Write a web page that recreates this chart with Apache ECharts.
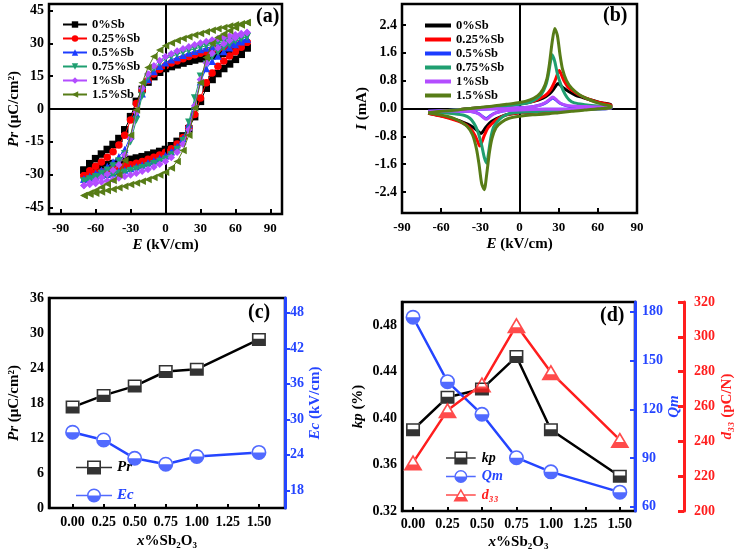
<!DOCTYPE html>
<html><head><meta charset="utf-8">
<script src="https://cdn.jsdelivr.net/npm/echarts@6/dist/echarts.min.js"></script>
<style>html,body{margin:0;padding:0;background:#fff}#c{width:738px;height:549px}</style>
</head><body><div id="c"></div>
<script>
// ---------- (a) P-E loops ----------
const loopNames = ['0%Sb','0.25%Sb','0.5%Sb','0.75%Sb','1%Sb','1.5%Sb'];
const eDown = [70,65,60,55,50,45,40,35,30,25,20,15,10,5,0,-5,-10,-15,-20,-25,-30,-35,-40,-45,-50,-55,-60,-65,-70];
const eUp   = [-70,-65,-60,-55,-50,-45,-40,-35,-30,-25,-20,-15,-10,-5,0,5,10,15,20,25,30,35,40,45,50,55,60,65,70];
const pDown_0   = [28,27.4,26.8,26.1,25.5,24.9,24.3,23.6,23,22.4,21.8,21,20.2,19.4,18.5,16.8,14.8,12.3,9,3.5,-3.5,-9.5,-13.5,-16.2,-18.5,-20.6,-22.7,-25,-28];
const pUp_0     = [-28,-27.4,-26.8,-26.1,-25.5,-24.9,-24.3,-23.6,-23,-22.4,-21.8,-21,-20.2,-19.4,-18.5,-16.8,-14.8,-12.3,-9,-3.5,3.5,9.5,13.5,16.2,18.5,20.6,22.7,25,28];
const pDown_025 = [30.5,29.9,29.3,28.7,28,27.4,26.8,26.1,25.5,24.8,24,23,22,21,19.8,18.2,16,13,8.5,2.5,-5,-12,-16.5,-19.5,-22,-24.2,-26.2,-28.2,-30.5];
const pUp_025   = [-30.5,-29.9,-29.3,-28.7,-28,-27.4,-26.8,-26.1,-25.5,-24.8,-24,-23,-22,-21,-19.8,-18.2,-16,-13,-8.5,-2.5,5,12,16.5,19.5,22,24.2,26.2,28.2,30.5];
const pDown_05  = [32,31.5,31,30.4,29.8,29.2,28.5,27.9,27.2,26.4,25.6,24.6,23.6,22.5,21.2,19.5,17.2,13.5,7,-2,-12.5,-18.5,-21.8,-24.2,-26.3,-28,-29.5,-30.8,-32];
const pUp_05    = [-32,-31.5,-31,-30.4,-29.8,-29.2,-28.5,-27.9,-27.2,-26.4,-25.6,-24.6,-23.6,-22.5,-21.2,-19.5,-17.2,-13.5,-7,2,12.5,18.5,21.8,24.2,26.3,28,29.5,30.8,32];
const pDown_075 = [33,32.5,32,31.4,30.8,30.2,29.5,28.9,28.2,27.5,26.8,26,25,24,23,21,18.5,14.5,6,-5,-15,-20.5,-23.8,-26,-28,-29.5,-31,-32,-33];
const pUp_075   = [-33,-32.5,-32,-31.4,-30.8,-30.2,-29.5,-28.9,-28.2,-27.5,-26.8,-26,-25,-24,-23,-21,-18.5,-14.5,-6,5,15,20.5,23.8,26,28,29.5,31,32,33];
const pDown_1   = [35,34.5,34,33.4,32.8,32.2,31.5,30.9,30.2,29.4,28.5,27.6,26.5,25.3,24,22.2,19.8,16,9.5,-1.5,-13.5,-21,-25.5,-28,-29.8,-31.3,-32.6,-33.8,-35];
const pUp_1     = [-35,-34.5,-34,-33.4,-32.8,-32.2,-31.5,-30.9,-30.2,-29.4,-28.5,-27.6,-26.5,-25.3,-24,-22.2,-19.8,-16,-9.5,1.5,13.5,21,25.5,28,29.8,31.3,32.6,33.8,35];
const pDown_15  = [39.5,39,38.5,37.9,37.3,36.7,36,35.3,34.5,33.8,33,32.2,31.3,30.2,28.9,27,24,19,12,-0.5,-12,-23.5,-30,-32.7,-34.3,-35.8,-37.2,-38.4,-39.5];
const pUp_15    = [-39.5,-39,-38.5,-37.9,-37.3,-36.7,-36,-35.3,-34.5,-33.8,-33,-32.2,-31.3,-30.2,-28.9,-27,-24,-19,-12,0.5,12,23.5,30,32.7,34.3,35.8,37.2,38.4,39.5];
const eTicks = [-90,-60,-30,0,30,60,90];
const pTicks = [-45,-30,-15,0,15,30,45];

// ---------- (b) I-E curves ----------
const iLoop_0 = [[-70,-0.1],[-60,-0.07],[-50,-0.04],[-40,-0.01],[-30,0.02],[-20,0.05],[-10,0.09],[0,0.13],[10,0.2],[18,0.3],[23,0.42],[26,0.55],[28,0.66],[29.5,0.72],[31,0.68],[34,0.58],[38,0.48],[43,0.38],[48,0.32],[54,0.25],[60,0.19],[65,0.15],[70,0.11],
  [70,0.04],[50,0],[30,-0.05],[10,-0.1],[0,-0.12],[-10,-0.18],[-18,-0.3],[-23,-0.42],[-26,-0.55],[-28,-0.66],[-29.5,-0.72],[-31,-0.68],[-34,-0.58],[-38,-0.48],[-43,-0.4],[-48,-0.33],[-54,-0.26],[-60,-0.21],[-65,-0.17],[-70,-0.14]];
const iLoop_025 = [[-70,-0.1],[-60,-0.07],[-50,-0.04],[-40,-0.01],[-30,0.02],[-20,0.05],[-10,0.09],[0,0.13],[10,0.2],[16,0.3],[20,0.38],[24,0.55],[27,0.78],[29,0.98],[30.5,1.09],[32,0.98],[34,0.8],[37,0.62],[41,0.5],[46,0.38],[52,0.28],[58,0.2],[64,0.15],[70,0.1],
  [70,0.03],[50,-0.02],[30,-0.06],[10,-0.1],[0,-0.12],[-10,-0.18],[-16,-0.28],[-20,-0.4],[-24,-0.55],[-27,-0.78],[-29,-0.98],[-30.5,-1.08],[-32,-0.95],[-34,-0.78],[-37,-0.6],[-41,-0.47],[-46,-0.38],[-52,-0.3],[-58,-0.24],[-64,-0.19],[-70,-0.14]];
const iLoop_05 = [[-70,-0.08],[-50,-0.05],[-30,-0.02],[-10,0],[0,0.02],[10,0.05],[16,0.1],[20,0.16],[23,0.24],[25.5,0.31],[28,0.24],[31,0.15],[35,0.09],[40,0.06],[55,0.04],[70,0.03],
  [70,0],[50,-0.01],[30,-0.02],[10,-0.03],[0,-0.04],[-10,-0.06],[-16,-0.1],[-20,-0.15],[-23,-0.23],[-25.5,-0.29],[-28,-0.24],[-31,-0.15],[-35,-0.1],[-40,-0.08],[-55,-0.07],[-70,-0.08]];
const iLoop_075 = [[-70,-0.1],[-60,-0.07],[-50,-0.04],[-40,-0.01],[-30,0.02],[-20,0.05],[-10,0.08],[0,0.12],[8,0.18],[13,0.28],[17,0.42],[20,0.65],[22,0.95],[24,1.4],[25,1.54],[27,1.35],[29,1.0],[32,0.65],[35,0.4],[38,0.25],[42,0.16],[50,0.11],[60,0.07],[70,0.05],
  [70,0.01],[50,-0.03],[30,-0.06],[10,-0.09],[0,-0.11],[-8,-0.15],[-13,-0.24],[-17,-0.38],[-20,-0.55],[-22,-0.85],[-24,-1.35],[-25,-1.57],[-27,-1.4],[-29,-1.05],[-32,-0.65],[-35,-0.42],[-38,-0.28],[-42,-0.2],[-50,-0.15],[-60,-0.12],[-70,-0.1]];
const iLoop_1 = [[-70,-0.08],[-50,-0.05],[-30,-0.02],[-10,0],[0,0.02],[10,0.05],[16,0.1],[20,0.17],[23,0.26],[25.5,0.33],[28,0.26],[31,0.16],[35,0.1],[40,0.07],[55,0.05],[70,0.03],
  [70,0],[50,-0.01],[30,-0.02],[10,-0.03],[0,-0.04],[-10,-0.06],[-16,-0.1],[-20,-0.16],[-23,-0.25],[-25.5,-0.31],[-28,-0.25],[-31,-0.16],[-35,-0.1],[-40,-0.08],[-55,-0.07],[-70,-0.08]];
const iLoop_15 = [[-70,-0.12],[-60,-0.08],[-50,-0.05],[-40,-0.01],[-30,0.03],[-20,0.07],[-10,0.12],[0,0.17],[8,0.25],[14,0.37],[18,0.55],[21,0.85],[23,1.3],[25,1.9],[27,2.3],[29,2.1],[31,1.55],[33,1.12],[36,0.8],[40,0.58],[45,0.42],[50,0.31],[55,0.23],[60,0.16],[65,0.11],[70,0.07],
  [70,0.02],[60,-0.01],[50,-0.04],[40,-0.08],[30,-0.12],[20,-0.16],[10,-0.18],[0,-0.22],[-8,-0.28],[-14,-0.4],[-18,-0.55],[-21,-0.85],[-23,-1.25],[-25,-1.85],[-27,-2.33],[-29,-2.15],[-31,-1.6],[-33,-1.15],[-36,-0.75],[-40,-0.52],[-45,-0.38],[-50,-0.29],[-55,-0.23],[-60,-0.19],[-65,-0.16],[-70,-0.13]];
const iTicks = [-2.4,-1.6,-0.8,0,0.8,1.6,2.4];

// ---------- (c) Pr / Ec ----------
const xSb = [0,0.25,0.5,0.75,1.0,1.5];
const prVals = [17.3,19.3,20.9,23.4,23.8,28.9];
const ecVals = [27.8,26.5,23.4,22.4,23.7,24.4];
const xSbTicks = [0,0.25,0.5,0.75,1.0,1.25,1.5];
const ecTicks = [18,24,30,36,42,48];

// ---------- (d) kp / Qm / d33 ----------
const kpVals = [0.39,0.418,0.425,0.453,0.39,0.35];
const qmVals = [176.6,137,116.9,90.2,81.5,69];
const d33Vals = [227.8,257.8,272.7,306.6,279.6,240.8];
const kpTicks = [0.32,0.36,0.40,0.44,0.48];
const qmTicks = [60,90,120,150,180];

// ---------- styling ----------
const FONT = '"Liberation Serif","Times New Roman",serif';
const BLUE = '#2545ff', RED = '#ff1e1e';
const loopColors = ['#000000','#ff0000','#1c3cff','#1f9f70','#b34dff','#577c17'];
const loopSymbols = ['rect','circle','triangle','triangle','diamond','triangle'];
const loopRot = [0,0,0,180,0,90];

const SQ = 'path://M0,0 L14,0 L14,14 L0,14 Z M1.6,1.6 L1.6,6.4 L12.4,6.4 L12.4,1.6 Z';
const CI = 'path://M0,7 A7,7 0 1,1 14,7 A7,7 0 1,1 0,7 Z M1.5,7 L12.5,7 A5.5,5.5 0 0,0 1.5,7 Z';
const TR = 'path://M10,0 L20,16 L0,16 Z M10,3.2 L5.8,10 L14.2,10 Z';
const SQ_LEG36 = 'path://M0,6.2 L11.5,6.2 L11.5,7.8 L0,7.8 Z M24.5,6.2 L36,6.2 L36,7.8 L24.5,7.8 Z M11,0 L25,0 L25,14 L11,14 Z M12.6,1.6 L12.6,6.4 L23.4,6.4 L23.4,1.6 Z';
const CI_LEG36 = 'path://M0,6.2 L11.5,6.2 L11.5,7.8 L0,7.8 Z M24.5,6.2 L36,6.2 L36,7.8 L24.5,7.8 Z M11,7 A7,7 0 1,1 25,7 A7,7 0 1,1 11,7 Z M12.5,7 L23.5,7 A5.5,5.5 0 0,0 12.5,7 Z';
const SQ_LEG32 = 'path://M0,6.2 L9.5,6.2 L9.5,7.8 L0,7.8 Z M22.5,6.2 L32,6.2 L32,7.8 L22.5,7.8 Z M9,0 L23,0 L23,14 L9,14 Z M10.6,1.6 L10.6,6.4 L21.4,6.4 L21.4,1.6 Z';
const CI_LEG32 = 'path://M0,6.2 L9.5,6.2 L9.5,7.8 L0,7.8 Z M22.5,6.2 L32,6.2 L32,7.8 L22.5,7.8 Z M9,7 A7,7 0 1,1 23,7 A7,7 0 1,1 9,7 Z M10.5,7 L21.5,7 A5.5,5.5 0 0,0 10.5,7 Z';
const TR_LEG32 = 'path://M0,6.2 L12.5,6.2 L12.5,7.8 L0,7.8 Z M19.5,6.2 L32,6.2 L32,7.8 L19.5,7.8 Z M16,0 L24,14 L8,14 Z M16,3.2 L12.5,9.2 L19.5,9.2 Z';
const LINE_LEG = 'path://M0,0 L26,0 L26,4 L0,4 Z';

function nameStyle(color, size) {
  return {fontFamily: FONT, fontWeight: 'bold', fontSize: size || 15, color: color || '#000',
    rich: {i: {fontFamily: FONT, fontWeight: 'bold', fontStyle: 'italic', fontSize: size || 15, color: color || '#000'},
           n: {fontFamily: FONT, fontWeight: 'bold', fontSize: size || 15, color: color || '#000'}}};
}
function tick(values, color, len, inside) {
  return {show: true, inside: inside !== false, length: len || 5, customValues: values, lineStyle: {color: color || '#000', width: 2}};
}
function lab(values, color, size, margin, fmt) {
  const o = {customValues: values, fontFamily: FONT, fontWeight: 'bold', fontSize: size || 14, color: color || '#000', margin: margin || 6};
  if (fmt) o.formatter = fmt;
  return o;
}
const noLine = {show: false, onZero: false};
const noSplit = {show: false};

const pDowns = [pDown_0,pDown_025,pDown_05,pDown_075,pDown_1,pDown_15];
const pUps = [pUp_0,pUp_025,pUp_05,pUp_075,pUp_1,pUp_15];
const iLoops = [iLoop_0,iLoop_025,iLoop_05,iLoop_075,iLoop_1,iLoop_15];

const series = [];
loopNames.forEach((nm, k) => {
  const data = eDown.map((e, i) => [e, pDowns[k][i]]).concat(eUp.map((e, i) => [e, pUps[k][i]]));
  const s = {type: 'line', name: nm, xAxisIndex: 0, yAxisIndex: 0, data: data,
    symbol: loopSymbols[k], symbolRotate: loopRot[k], symbolSize: 7.5, showAllSymbol: true,
    lineStyle: {color: loopColors[k], width: 1}, itemStyle: {color: loopColors[k]}, z: 3 + k};
  if (k === 0) s.markLine = {silent: true, symbol: ['none','none'], label: {show: false},
    lineStyle: {color: '#000', width: 2, type: 'solid'}, data: [{xAxis: 0}, {yAxis: 0}]};
  series.push(s);
});
loopNames.forEach((nm, k) => {
  const s = {type: 'line', name: nm + ' ', xAxisIndex: 1, yAxisIndex: 1, data: iLoops[k],
    symbol: 'none', smooth: 0.25, lineStyle: {color: loopColors[k], width: 3}, itemStyle: {color: loopColors[k]}, z: 3 + k};
  if (k === 0) s.markLine = {silent: true, symbol: ['none','none'], label: {show: false},
    lineStyle: {color: '#000', width: 2, type: 'solid'}, data: [{xAxis: 0}, {yAxis: 0}]};
  series.push(s);
});
function pair(name, xi, yi, vals, color, sym, symBg, size) {
  const data = xSb.map((x, i) => [x, vals[i]]);
  series.push({type: 'line', name: name + '-line', xAxisIndex: xi, yAxisIndex: yi, data: data,
    symbol: symBg, symbolSize: size, itemStyle: {color: '#fff'}, lineStyle: {color: color, width: 2.5}, z: 3});
  series.push({type: 'scatter', name: name, xAxisIndex: xi, yAxisIndex: yi, data: data,
    symbol: sym, symbolSize: size, itemStyle: {color: color}, z: 5});
}
pair('Pr', 2, 2, prVals, '#000', SQ, 'rect', [14, 13]);
pair('Ec', 2, 3, ecVals, BLUE, CI, 'circle', 15);
pair('kp', 3, 4, kpVals, '#000', SQ, 'rect', [14, 13]);
pair('Qm', 3, 5, qmVals, BLUE, CI, 'circle', 15);
pair('d₃₃', 3, 6, d33Vals, RED, TR, 'triangle', [19, 16]);

const gridBase = {show: true, borderColor: '#000', borderWidth: 2.5, backgroundColor: 'transparent', outerBoundsMode: 'none', containLabel: false};

const option = {
  animation: false,
  backgroundColor: '#fff',
  grid: [
    Object.assign({left: 49, top: 4, width: 233, height: 210}, gridBase),
    Object.assign({left: 402, top: 4, width: 235, height: 209}, gridBase),
    Object.assign({left: 49, top: 298, width: 236, height: 210}, gridBase),
    Object.assign({left: 402, top: 302, width: 233, height: 209}, gridBase)
  ],
  xAxis: [
    {gridIndex: 0, type: 'value', min: -100, max: 100, axisLine: noLine, splitLine: noSplit,
     axisTick: tick(eTicks), axisLabel: lab(eTicks, '#000', 13, 8),
     name: '{i|E}{n| (kV/cm)}', nameLocation: 'middle', nameGap: 24, nameTextStyle: nameStyle()},
    {gridIndex: 1, type: 'value', min: -90, max: 90, axisLine: noLine, splitLine: noSplit,
     axisTick: tick(eTicks), axisLabel: lab(eTicks, '#000', 13, 8),
     name: '{i|E}{n| (kV/cm)}', nameLocation: 'middle', nameGap: 24, nameTextStyle: nameStyle()},
    {gridIndex: 2, type: 'value', min: -0.19, max: 1.71, axisLine: noLine, splitLine: noSplit,
     axisTick: tick(xSbTicks, '#000', 4), axisLabel: lab(xSbTicks, '#000', 14, 7, v => v.toFixed(2)),
     name: '{i|x}{n|%Sb₂O₃}', nameLocation: 'middle', nameGap: 26, nameTextStyle: nameStyle()},
    {gridIndex: 3, type: 'value', min: -0.08, max: 1.61, axisLine: noLine, splitLine: noSplit,
     axisTick: tick(xSbTicks, '#000', 4), axisLabel: lab(xSbTicks, '#000', 14, 6, v => v.toFixed(2)),
     name: '{i|x}{n|%Sb₂O₃}', nameLocation: 'middle', nameGap: 24, nameTextStyle: nameStyle()}
  ],
  yAxis: [
    {gridIndex: 0, type: 'value', min: -48, max: 48, axisLine: noLine, splitLine: noSplit,
     axisTick: tick(pTicks, '#000', 4), axisLabel: lab(pTicks, '#000', 14, 5),
     name: '{i|Pr}{n| (μC/cm²)}', nameLocation: 'middle', nameGap: 27, nameTextStyle: nameStyle()},
    {gridIndex: 1, type: 'value', min: -3, max: 3, axisLine: noLine, splitLine: noSplit,
     axisTick: tick(iTicks, '#000', 4), axisLabel: lab(iTicks, '#000', 14, 5, v => v.toFixed(1)),
     name: '{i|I}{n| (mA)}', nameLocation: 'middle', nameGap: 32, nameTextStyle: nameStyle()},
    {gridIndex: 2, type: 'value', min: 0, max: 36, interval: 6, axisLine: {show: true, onZero: false, lineStyle: {color: '#000', width: 2.5}}, splitLine: noSplit,
     axisTick: {show: false}, axisLabel: {fontFamily: FONT, fontWeight: 'bold', fontSize: 14, color: '#000', margin: 5},
     name: '{i|Pr}{n| (μC/cm²)}', nameLocation: 'middle', nameGap: 27, nameTextStyle: nameStyle()},
    {gridIndex: 2, type: 'value', position: 'right', min: 15, max: 50.5, z: 4,
     axisLine: {show: true, onZero: false, lineStyle: {color: BLUE, width: 3}}, splitLine: noSplit,
     axisTick: tick(ecTicks, BLUE, 5, false), axisLabel: lab(ecTicks, BLUE, 14, 5),
     name: '{i|Ec}{n| (kV/cm)}', nameLocation: 'middle', nameGap: 22, nameTextStyle: nameStyle(BLUE)},
    {gridIndex: 3, type: 'value', min: 0.32, max: 0.50, axisLine: {show: true, onZero: false, lineStyle: {color: '#000', width: 2.5}}, splitLine: noSplit,
     axisTick: {show: false}, axisLabel: lab(kpTicks, '#000', 14, 5, v => v.toFixed(2)),
     name: '{i|kp}{n| (%)}', nameLocation: 'middle', nameGap: 36, nameTextStyle: nameStyle()},
    {gridIndex: 3, type: 'value', position: 'right', min: 57.4, max: 186, z: 4,
     axisLine: {show: true, onZero: false, lineStyle: {color: BLUE, width: 3}}, splitLine: noSplit,
     axisTick: tick(qmTicks, BLUE, 5, true), axisLabel: lab(qmTicks, BLUE, 14, 7),
     name: '{i|Qm}', nameLocation: 'middle', nameGap: 25, nameTextStyle: nameStyle(BLUE)},
    {gridIndex: 3, type: 'value', position: 'right', offset: 49, min: 200, max: 320, interval: 20, z: 4,
     axisLine: {show: true, onZero: false, lineStyle: {color: RED, width: 3}}, splitLine: noSplit,
     axisTick: {show: true, inside: true, length: 6, lineStyle: {color: RED, width: 3}},
     axisLabel: {fontFamily: FONT, fontWeight: 'bold', fontSize: 14, color: RED, margin: 10},
     name: '{i|d₃₃}{n| (pC/N)}', nameLocation: 'middle', nameGap: 36, nameTextStyle: nameStyle(RED)}
  ],
  legend: [
    {left: 57, top: 13, orient: 'vertical', itemWidth: 24, itemHeight: 8, itemGap: 1,
     textStyle: {fontFamily: FONT, fontWeight: 'bold', fontSize: 12.5, color: '#000'},
     data: loopNames, selectedMode: false},
    {left: 420, top: 14, orient: 'vertical', itemWidth: 26, itemHeight: 4, itemGap: 1,
     textStyle: {fontFamily: FONT, fontWeight: 'bold', fontSize: 12.5, color: '#000'},
     data: loopNames.map(n => ({name: n + ' ', icon: LINE_LEG})), selectedMode: false},
    {left: 71, top: 455, orient: 'vertical', itemWidth: 36, itemHeight: 14, itemGap: 13, selectedMode: false,
     textStyle: {fontFamily: FONT, fontWeight: 'bold', fontStyle: 'italic', fontSize: 15, color: '#000'},
     data: [{name: 'Pr', icon: SQ_LEG36}, {name: 'Ec', icon: CI_LEG36, textStyle: {color: BLUE}}]},
    {left: 441, top: 446, orient: 'vertical', itemWidth: 32, itemHeight: 13, itemGap: 4.5, selectedMode: false,
     textStyle: {fontFamily: FONT, fontWeight: 'bold', fontStyle: 'italic', fontSize: 14, color: '#000'},
     data: [{name: 'kp', icon: SQ_LEG32}, {name: 'Qm', icon: CI_LEG32, textStyle: {color: BLUE}},
            {name: 'd₃₃', icon: TR_LEG32, textStyle: {color: RED}}]}
  ],
  graphic: [
    {type: 'text', x: 256, y: 17, style: {text: '(a)', fontFamily: FONT, fontWeight: 'bold', fontSize: 20, fill: '#000', verticalAlign: 'middle'}},
    {type: 'text', x: 603, y: 16, style: {text: '(b)', fontFamily: FONT, fontWeight: 'bold', fontSize: 20, fill: '#000', verticalAlign: 'middle'}},
    {type: 'text', x: 248, y: 313, style: {text: '(c)', fontFamily: FONT, fontWeight: 'bold', fontSize: 20, fill: '#000', verticalAlign: 'middle'}},
    {type: 'text', x: 600, y: 316, style: {text: '(d)', fontFamily: FONT, fontWeight: 'bold', fontSize: 20, fill: '#000', verticalAlign: 'middle'}}
  ],
  series: series
};
const chart = echarts.init(document.getElementById('c'), null, {renderer: 'canvas'});
chart.setOption(option);
</script></body></html>
